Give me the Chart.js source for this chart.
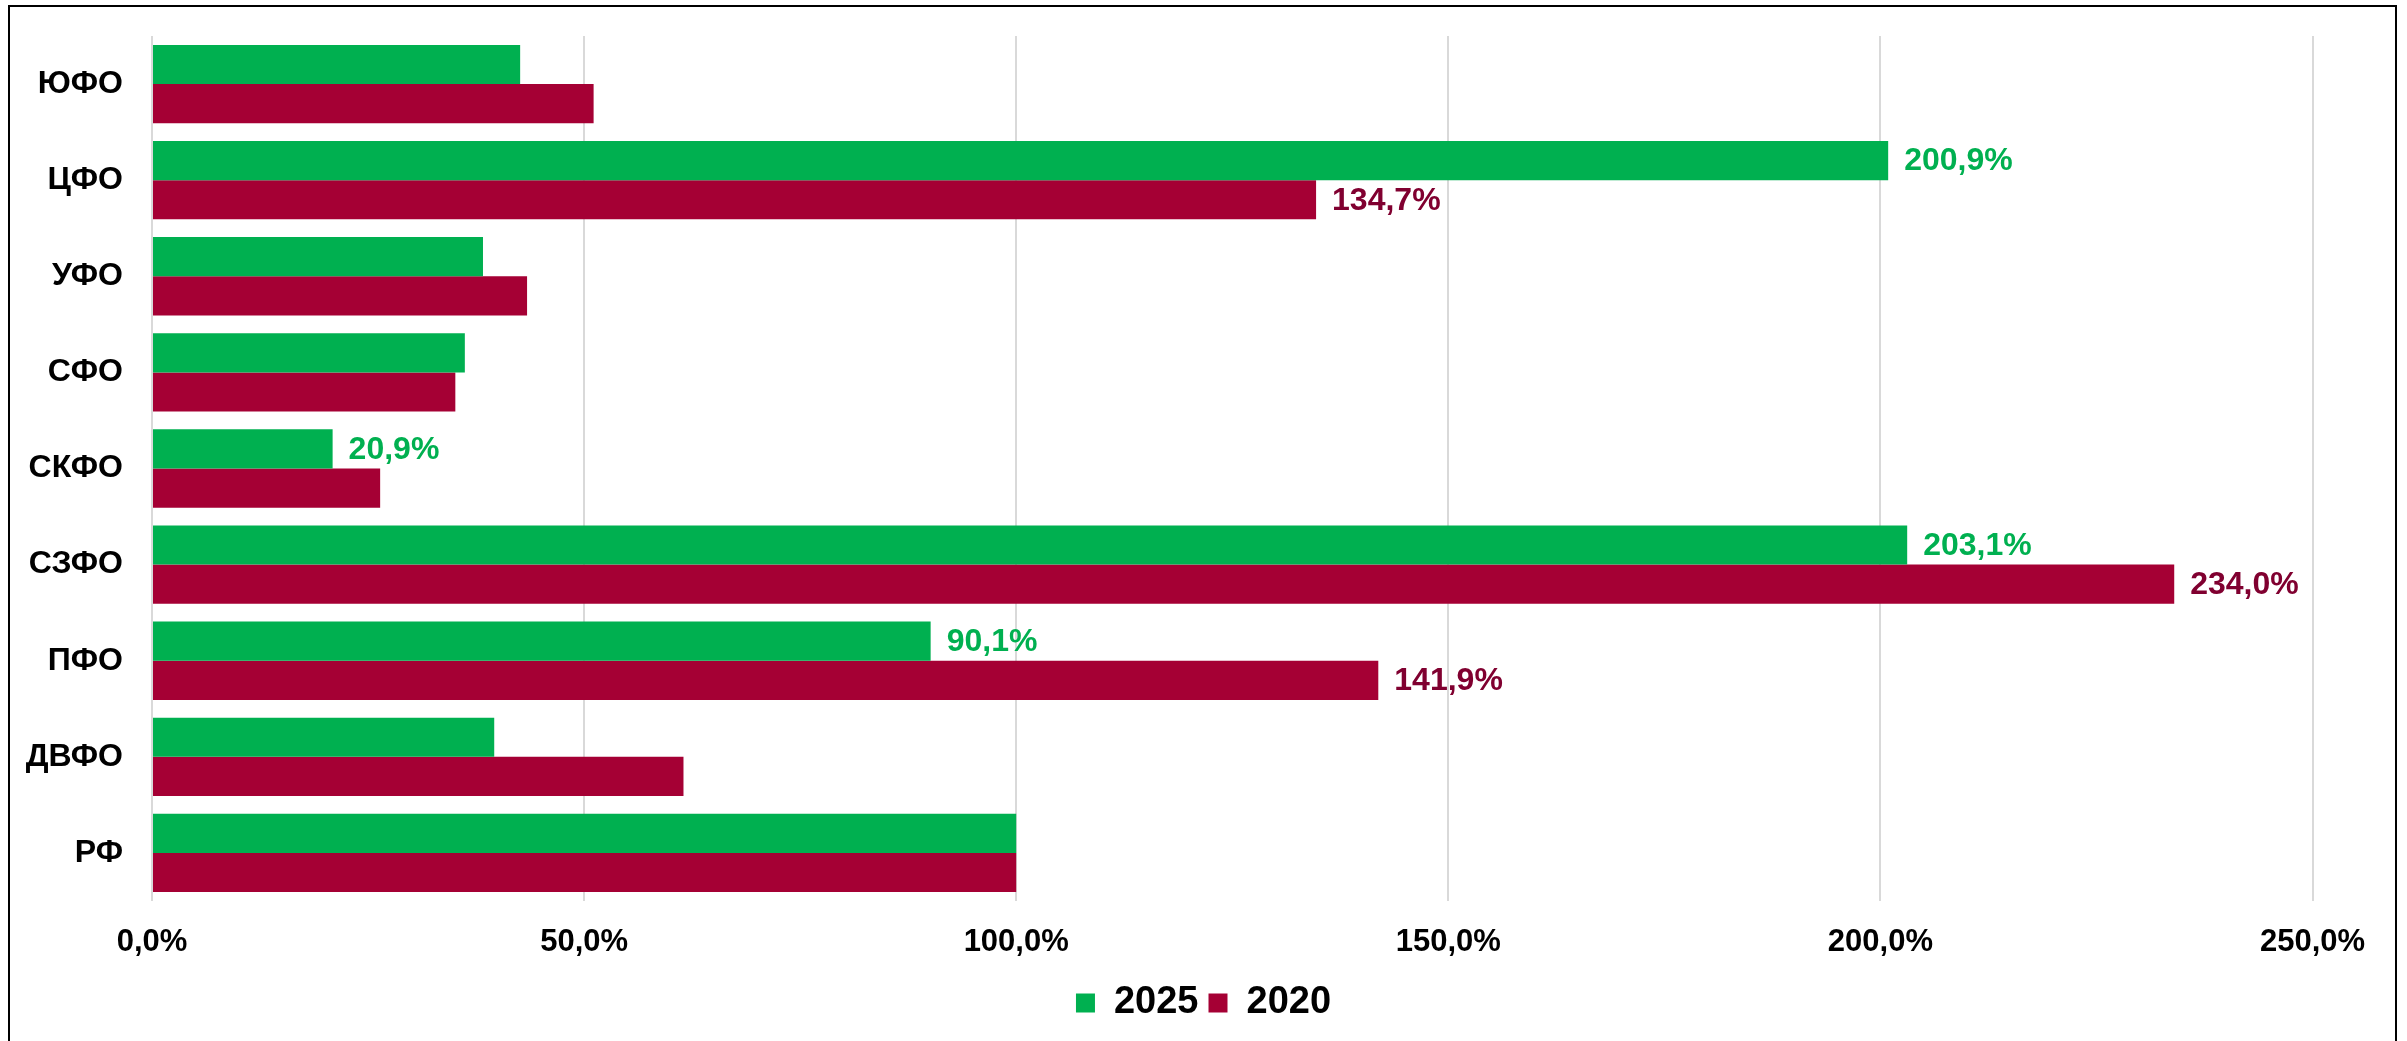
<!DOCTYPE html>
<html><head><meta charset="utf-8">
<script src="https://cdn.jsdelivr.net/npm/chart.js@4/dist/chart.umd.min.js"></script>
<style>html,body{margin:0;padding:0;background:#fff;overflow:hidden}#wrap{width:2407px;height:1041px;position:relative}</style>
</head><body><div id="wrap"><canvas id="c" width="2407" height="1041"></canvas></div>
<script>
const categories = ['ЮФО','ЦФО','УФО','СФО','СКФО','СЗФО','ПФО','ДВФО','РФ'];
const seriesNames = ['2025','2020'];
const values2025 = [42.6, 200.9, 38.3, 36.2, 20.9, 203.1, 90.1, 39.6, 100.0];
const values2020 = [51.1, 134.7, 43.4, 35.1, 26.4, 234.0, 141.9, 61.5, 100.0];
const showLabel2025 = [false, true, false, false, true, true, true, false, false];
const showLabel2020 = [false, true, false, false, false, true, true, false, false];
const xTicks = [0, 50, 100, 150, 200, 250];

const FONT = '"Liberation Sans", Arial, sans-serif';
const fmt = v => v.toFixed(1).replace('.', ',') + '%';

const dataLabelPlugin = {
  id: 'dataLabels',
  afterDatasetsDraw(chart) {
    const ctx = chart.ctx;
    const flags = [showLabel2025, showLabel2020];
    const colors = ['#00B050', '#800030'];
    ctx.save();
    ctx.font = 'bold 32px ' + FONT;
    ctx.textAlign = 'left';
    ctx.textBaseline = 'middle';
    chart.data.datasets.forEach((ds, di) => {
      const meta = chart.getDatasetMeta(di);
      meta.data.forEach((bar, i) => {
        if (!flags[di][i]) return;
        ctx.fillStyle = colors[di];
        ctx.fillText(fmt(ds.data[i]), bar.x + 16, bar.y + 1);
      });
    });
    ctx.restore();
  }
};

const framePlugin = {
  id: 'frame',
  beforeDraw(chart) {
    const ctx = chart.ctx;
    ctx.save();
    ctx.fillStyle = '#fff';
    ctx.fillRect(0, 0, chart.width, chart.height);
    ctx.restore();
  },
  afterDraw(chart) {
    const ctx = chart.ctx;
    ctx.save();
    ctx.strokeStyle = '#000';
    ctx.lineWidth = 2;
    ctx.beginPath();
    ctx.moveTo(9, chart.height + 5);
    ctx.lineTo(9, 6);
    ctx.lineTo(2396, 6);
    ctx.lineTo(2396, chart.height + 5);
    ctx.stroke();
    ctx.restore();
  }
};

new Chart(document.getElementById('c'), {
  type: 'bar',
  data: {
    labels: categories,
    datasets: [
      { label: seriesNames[0], data: values2025, backgroundColor: '#00B050' },
      { label: seriesNames[1], data: values2020, backgroundColor: '#A50034' }
    ]
  },
  options: {
    indexAxis: 'y',
    responsive: false,
    animation: false,
    devicePixelRatio: 1,
    layout: { padding: { left: 0, right: 0, top: 36, bottom: 9 } },
    datasets: { bar: { categoryPercentage: 0.815, barPercentage: 1.0 } },
    scales: {
      x: {
        min: 0, max: 250,
        afterBuildTicks: s => { s.ticks = xTicks.map(v => ({ value: v })); },
        afterFit: s => { s.height = 73; s.paddingLeft = 0; s.paddingRight = 94.5; },
        grid: { color: '#D9D9D9', lineWidth: 2, drawTicks: false },
        border: { display: false },
        ticks: { padding: 23, color: '#000', font: { family: FONT, size: 31, weight: 'bold' }, callback: v => fmt(v) }
      },
      y: {
        afterFit: s => { s.width = 152; s.paddingTop = 0; s.paddingBottom = 0; },
        grid: { display: false, drawTicks: false },
        border: { display: false },
        ticks: { padding: 29, color: '#000', font: { family: FONT, size: 32, weight: 'bold' } }
      }
    },
    plugins: {
      tooltip: { enabled: false },
      legend: {
        position: 'bottom',
        labels: { boxWidth: 19, boxHeight: 19, padding: 10, color: '#000', font: { family: FONT, size: 38, weight: 'bold' } }
      }
    }
  },
  plugins: [framePlugin, dataLabelPlugin]
});
</script></body></html>
